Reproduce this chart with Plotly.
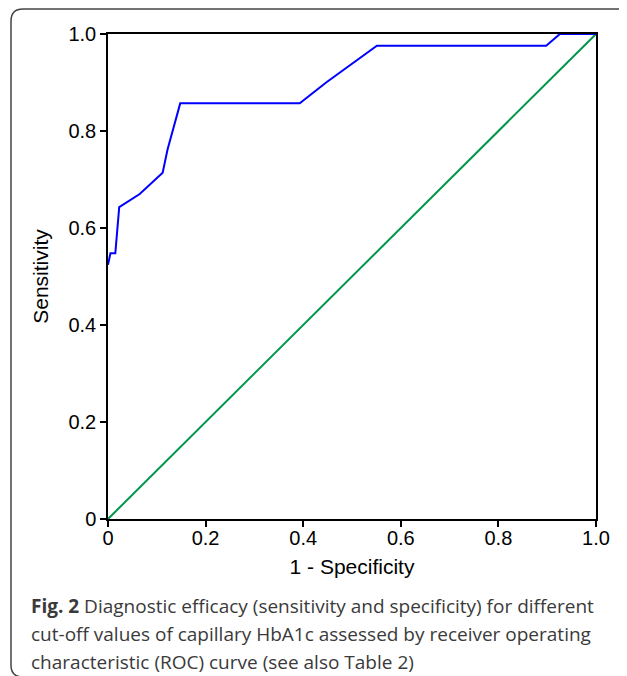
import plotly.graph_objects as go

# ROC curve points (1 - specificity, sensitivity)
fpr = [0, 0.005, 0.015, 0.023, 0.065, 0.112, 0.122, 0.148, 0.393, 0.447, 0.551, 0.898, 0.926, 1.0]
tpr = [0.524, 0.548, 0.548, 0.643, 0.670, 0.714, 0.762, 0.857, 0.857, 0.900, 0.976, 0.976, 1.0, 1.0]
ref_x = [0, 1]
ref_y = [0, 1]
tick_vals = [0, 0.2, 0.4, 0.6, 0.8, 1.0]
tick_text = ["0", "0.2", "0.4", "0.6", "0.8", "1.0"]
caption_lines = [
    "<b>Fig. 2</b> Diagnostic efficacy (sensitivity and specificity) for different",
    "cut-off values of capillary HbA1c assessed by receiver operating",
    "characteristic (ROC) curve (see also Table 2)",
]

W, H = 627, 676
OFF = 8  # page body margin
L, R, T, B = 100, 39, 26, 165
pw, ph = W - L - R, H - T - B

def px(x):  # window pixel -> paper
    return (x - OFF - L) / pw

def py(y):
    return (H - B - (y - OFF)) / ph

fig = go.Figure()
fig.add_trace(go.Scatter(x=ref_x, y=ref_y, mode="lines",
                         line=dict(color="#00964B", width=2), showlegend=False))
fig.add_trace(go.Scatter(x=fpr, y=tpr, mode="lines",
                         line=dict(color="#0000FF", width=2), showlegend=False))

axis_common = dict(
    range=[0, 1], tickvals=tick_vals, ticktext=tick_text,
    showgrid=False, zeroline=False, showline=True, linecolor="black", linewidth=1.5,
    mirror=True, ticks="outside", ticklen=6, tickwidth=1.5, tickcolor="black",
    tickfont=dict(family="Liberation Sans, Arial", size=20, color="black"),
    title_font=dict(family="Liberation Sans, Arial", size=21, color="black"),
)
fig.update_xaxes(**axis_common, title_text="1 - Specificity", title_standoff=12,
                 ticklabelstandoff=-6)
fig.update_yaxes(**axis_common, title_text="Sensitivity", title_standoff=14)

annotations = []
for i, line in enumerate(caption_lines):
    annotations.append(dict(
        text=line, xref="paper", yref="paper", x=px(29), y=py(606 + 28 * i),
        xanchor="left", yanchor="middle", showarrow=False, align="left",
        font=dict(family="Open Sans", size=19, color="#3a3a3a")))

# rounded frame (left, top, right corner, bottom)
x0, x1 = px(11), px(630)
yt, yb = py(9), py(677)
rx, ry = 12 / pw, 12 / ph
path = (f"M {x1},{yb} L {x1},{yt - ry} Q {x1},{yt} {x1 - rx},{yt} "
        f"L {x0 + rx},{yt} Q {x0},{yt} {x0},{yt - ry} "
        f"L {x0},{yb + ry} Q {x0},{yb} {x0 + rx},{yb} L {x1},{yb}")

fig.update_layout(
    width=W, height=H, margin=dict(l=L, r=R, t=T, b=B, autoexpand=False),
    paper_bgcolor="white", plot_bgcolor="white",
    annotations=annotations,
    shapes=[dict(type="path", path=path, xref="paper", yref="paper",
                 line=dict(color="#444444", width=1.5))],
)
fig.write_html("out.html")
